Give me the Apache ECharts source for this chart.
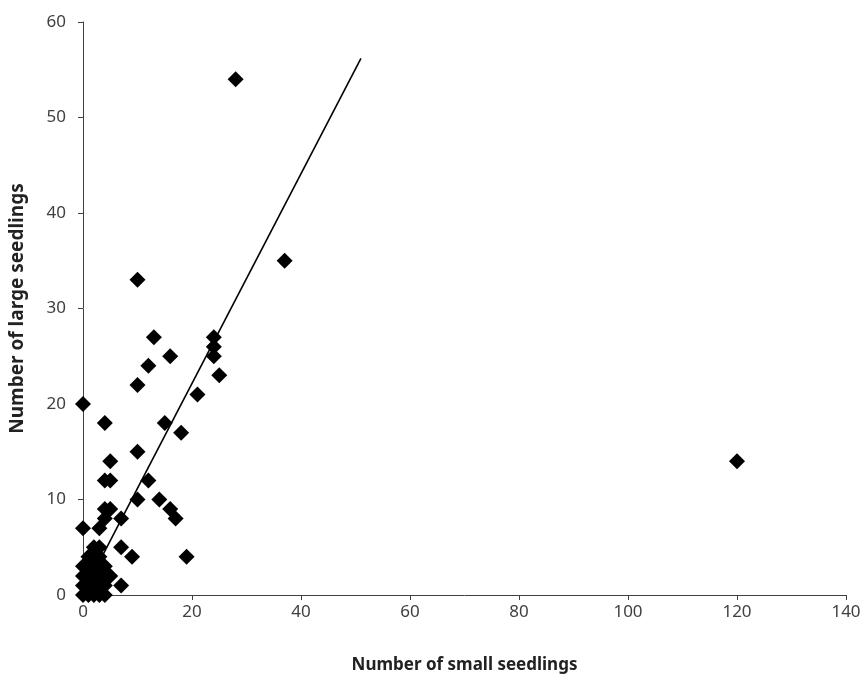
<!DOCTYPE html>
<html>
<head>
<meta charset="utf-8">
<script src="https://cdn.jsdelivr.net/npm/echarts@6/dist/echarts.min.js"></script>
<style>
html,body{margin:0;padding:0;background:#fff;}
#chart{width:866px;height:681px;}
</style>
</head>
<body>
<div id="chart"></div>
<script>
// Number of small seedlings (x) and large seedlings (y) per observation
var smallSeedlings = [28,37,120,10,13,24,24,24,16,12,25,10,21,0,4,15,18,10,5,4,5,12,10,14,16,17,4,5,7,0,3,4,7,9,19,7,
  0,1,2,3,4, 0,1,2,3,4, 0,1,2,3,5, 0,1,2,3,4, 1,2,3, 2,3];
var largeSeedlings = [54,35,14,33,27,27,26,25,25,24,23,22,21,20,18,18,17,15,14,12,12,12,10,10,9,8,9,9,8,7,7,8,5,4,4,1,
  0,0,0,0,0, 1,1,1,1,1, 2,2,2,2,2, 3,3,3,3,3, 4,4,4, 5,5];
// Fitted trend line endpoints
var trendX = [0, 51];
var trendY = [0.2, 56.2];
var xTicks = [0,20,40,60,80,100,120,140];
var yTicks = [0,10,20,30,40,50,60];

var points = smallSeedlings.map(function(v,i){return [v, largeSeedlings[i]];});
var trend = trendX.map(function(v,i){return [v, trendY[i]];});

var chart = echarts.init(document.getElementById('chart'));
var labelFont = {fontFamily:'Noto Sans', fontSize:17, color:'#404040'};
chart.setOption({
  animation:false,
  backgroundColor:'#fff',
  grid:{left:83, right:20, top:22, bottom:86, containLabel:false, outerBoundsMode:'none'},
  xAxis:{
    type:'value', min:xTicks[0], max:xTicks[xTicks.length-1], interval:20,
    axisLine:{show:true, lineStyle:{color:'#404040', width:1}},
    axisTick:{show:true, length:5, lineStyle:{color:'#404040'}},
    splitLine:{show:false},
    axisLabel:Object.assign({margin:9}, labelFont),
    name:'Number of small seedlings', nameLocation:'middle', nameGap:62,
    nameTextStyle:{fontFamily:'Noto Sans', fontSize:17, color:'#222', fontWeight:'bold'}
  },
  yAxis:{
    type:'value', min:yTicks[0], max:yTicks[yTicks.length-1], interval:10,
    axisLine:{show:true, lineStyle:{color:'#404040', width:1}},
    axisTick:{show:true, length:5, lineStyle:{color:'#404040'}},
    splitLine:{show:false},
    axisLabel:Object.assign({margin:17}, labelFont),
    name:'Number of large seedlings', nameLocation:'middle', nameGap:56, nameRotate:90,
    nameTextStyle:{fontFamily:'Noto Sans', fontSize:19, color:'#222', fontWeight:'bold'}
  },
  series:[
    {type:'line', data:trend, symbol:'none', lineStyle:{color:'#000', width:1.6}, z:1},
    {type:'scatter', data:points, symbol:'diamond', symbolSize:16, itemStyle:{color:'#000', opacity:1}, z:2}
  ]
});
</script>
</body>
</html>
